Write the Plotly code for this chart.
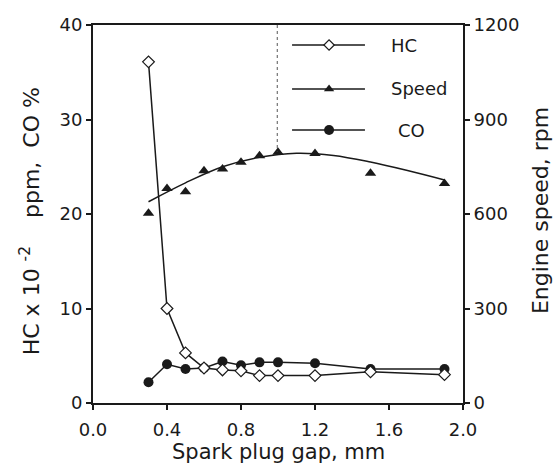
import plotly.graph_objects as go

# ---- data ----
gap = [0.3, 0.4, 0.5, 0.6, 0.7, 0.8, 0.9, 1.0, 1.2, 1.5, 1.9]
hc = [36.1, 10.0, 5.3, 3.7, 3.5, 3.4, 2.9, 2.9, 2.9, 3.3, 3.0]
co = [2.2, 4.1, 3.6, 3.7, 4.4, 4.0, 4.3, 4.3, 4.2, 3.6, 3.6]
speed = [602, 681, 671, 737, 743, 764, 785, 796, 792, 729, 697]
# trend curve of speed
fit_gap = [0.3, 0.5, 0.7, 0.9, 1.1, 1.3, 1.5, 1.7, 1.9]
fit_speed = [639, 699, 750, 780, 793, 786, 765, 738, 708]

x_ticks = [0.0, 0.4, 0.8, 1.2, 1.6, 2.0]
x_ticktext = ["0.0", "0.4", "0.8", "1.2", "1.6", "2.0"]
y_ticks = [0, 10, 20, 30, 40]
y2_ticks = [0, 300, 600, 900, 1200]

legend_names = ["HC", "Speed", "CO"]

FONT = "DejaVu Sans, sans-serif"
INK = "#1a1a1a"

fig = go.Figure()

fig.add_trace(go.Scatter(x=gap, y=co, mode="lines+markers", name="CO",
                         line=dict(color=INK, width=1.5),
                         marker=dict(symbol="circle", size=10, color=INK),
                         showlegend=False))
fig.add_trace(go.Scatter(x=gap, y=hc, mode="lines+markers", name="HC",
                         line=dict(color=INK, width=1.5),
                         marker=dict(symbol="diamond", size=9, color="white",
                                     line=dict(color=INK, width=1.2)),
                         showlegend=False))
fig.add_trace(go.Scatter(x=fit_gap, y=fit_speed, mode="lines", yaxis="y2",
                         line=dict(color=INK, width=1.5, shape="spline"),
                         showlegend=False, hoverinfo="skip"))
fig.add_trace(go.Scatter(x=gap, y=speed, mode="markers", name="Speed", yaxis="y2",
                         marker=dict(symbol="triangle-up", size=10, color=INK),
                         showlegend=False))

# ---- manual legend on a hidden overlay axis (paper-like coords) ----
leg_y = [0.947, 0.831, 0.722]
leg_sym = [dict(symbol="diamond", size=8, color="white", line=dict(color=INK, width=1.2)),
           dict(symbol="triangle-up", size=9, color=INK),
           dict(symbol="circle", size=10, color=INK)]
for name, yy, sym in zip(legend_names, leg_y, leg_sym):
    fig.add_trace(go.Scatter(x=[0.538, 0.735], y=[yy, yy], mode="lines",
                             xaxis="x3", yaxis="y3", line=dict(color=INK, width=1.5),
                             showlegend=False, hoverinfo="skip"))
    fig.add_trace(go.Scatter(x=[0.638], y=[yy], mode="markers", xaxis="x3", yaxis="y3",
                             marker=sym, showlegend=False, hoverinfo="skip"))
    fig.add_annotation(x=0.80 if name != "CO" else 0.82, y=yy, xref="x3", yref="y3",
                       text=name, showarrow=False, xanchor="left",
                       font=dict(family=FONT, size=18, color=INK))

# legend box left border (dashed)
fig.add_shape(type="line", xref="x3", yref="y3", x0=0.498, x1=0.498, y0=1.0, y1=0.665,
              line=dict(color="#555555", width=1, dash="dot"))

# axis titles as annotations
fig.add_annotation(text="Spark plug gap, mm", xref="paper", yref="paper",
                   x=0.5, y=-0.166, showarrow=False, xanchor="center", yanchor="bottom",
                   font=dict(family=FONT, size=21, color=INK))
fig.add_annotation(text="HC x 10 <sup>-2</sup>&nbsp;&nbsp;&nbsp; ppm,&nbsp; CO %",
                   xref="paper", yref="paper", x=-0.170, y=0.481, textangle=-90,
                   showarrow=False, xanchor="center", yanchor="middle",
                   font=dict(family=FONT, size=22, color=INK))
fig.add_annotation(text="Engine speed, rpm", xref="paper", yref="paper",
                   x=1.211, y=0.508, textangle=-90,
                   showarrow=False, xanchor="center", yanchor="middle",
                   font=dict(family=FONT, size=22, color=INK))

axis_common = dict(showline=True, linecolor=INK, linewidth=2, ticks="outside",
                   ticklen=5, tickwidth=1.5, tickcolor=INK, showgrid=False,
                   zeroline=False, tickfont=dict(family=FONT, size=18, color=INK))

fig.update_layout(
    width=555, height=468,
    margin=dict(l=93, r=92, t=25, b=65),
    paper_bgcolor="white", plot_bgcolor="white",
    xaxis=dict(range=[0, 2.0], tickvals=x_ticks, ticktext=x_ticktext, mirror=True,
               ticklabelstandoff=4, **axis_common),
    yaxis=dict(range=[0, 40], tickvals=y_ticks, **axis_common),
    yaxis2=dict(range=[0, 1200], tickvals=y2_ticks, overlaying="y", side="right",
                **axis_common),
    xaxis3=dict(range=[0, 1], overlaying="x", visible=False, fixedrange=True),
    yaxis3=dict(range=[0, 1], overlaying="y", visible=False, fixedrange=True),
)

fig.write_html("out.html")
